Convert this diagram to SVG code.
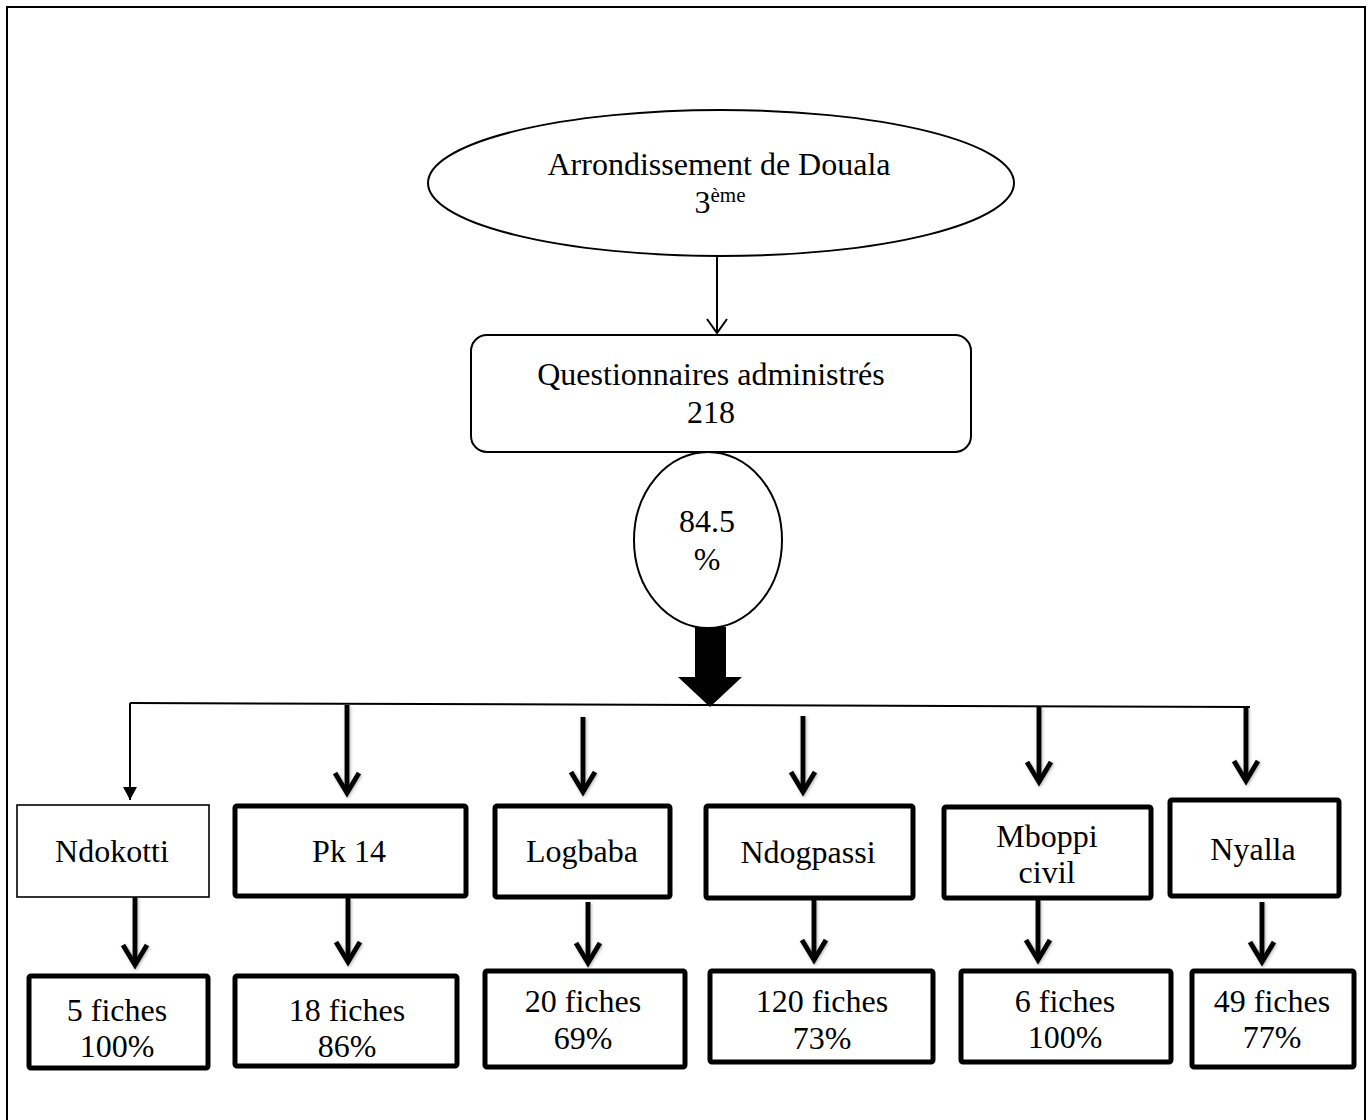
<svg xmlns="http://www.w3.org/2000/svg" width="1367" height="1120" viewBox="0 0 1367 1120">
  <style>
    text { font-family: "Liberation Serif", "Times New Roman", serif; font-size: 32px; fill: #000; text-anchor: middle; }
    .sup { font-size: 21px; }
    .frame { fill: none; stroke: #000; stroke-width: 2; }
    .thin { fill: #fff; stroke: #000; stroke-width: 2; }
    .box { fill: #fff; stroke: #000; stroke-width: 5; }
    .box-light { fill: #fff; stroke: #000; stroke-width: 1.6; }
    .wire { fill: none; stroke: #000; stroke-width: 2; }
    .thick { fill: none; stroke: #000; stroke-width: 5; marker-end: url(#vhead); filter: url(#glow); }
  </style>
  <defs>
    <filter id="glow" filterUnits="userSpaceOnUse" x="0" y="0" width="1367" height="1120">
      <feDropShadow dx="1" dy="1" stdDeviation="1.6" flood-color="#777" flood-opacity="0.55"/>
    </filter>
    <!-- open V head for the bold arrows -->
    <marker id="vhead" markerUnits="userSpaceOnUse" markerWidth="40" markerHeight="40" viewBox="-30 -20 40 40" refX="0" refY="0" orient="auto" overflow="visible">
      <path d="M-20,-12 L0,0 L-20,12" fill="none" stroke="#000" stroke-width="5" stroke-linejoin="miter"/>
    </marker>
    <!-- thin open head -->
    <marker id="thinhead" markerUnits="userSpaceOnUse" markerWidth="30" markerHeight="30" viewBox="-20 -15 30 30" refX="0" refY="0" orient="auto" overflow="visible">
      <path d="M-14,-10 L0,0 L-14,10" fill="none" stroke="#000" stroke-width="2"/>
    </marker>
    <!-- small filled head -->
    <marker id="solidhead" markerUnits="userSpaceOnUse" markerWidth="20" markerHeight="20" viewBox="-15 -10 20 20" refX="0" refY="0" orient="auto" overflow="visible">
      <path d="M-13,-7 L0,0 L-13,7 Z" fill="#000"/>
    </marker>
  </defs>

  <rect width="1367" height="1120" fill="#fff"/>
  <rect class="frame" x="7" y="7" width="1358" height="1200"/>

  <g id="arrondissement">
    <ellipse class="thin" cx="721" cy="183" rx="293" ry="73"/>
    <text x="719" y="175">Arrondissement de Douala</text>
    <text x="720" y="213">3<tspan class="sup" dy="-11">ème</tspan></text>
  </g>

  <g id="questionnaires">
    <rect class="thin" x="471" y="335" width="500" height="117" rx="16"/>
    <text x="711" y="385">Questionnaires administrés</text>
    <text x="711" y="423">218</text>
  </g>

  <g id="taux">
    <ellipse class="thin" cx="708" cy="540" rx="74" ry="88"/>
    <text x="707" y="532">84.5</text>
    <text x="707" y="570">%</text>
  </g>

  <g id="ndokotti">
    <rect class="box-light" x="17" y="805" width="192" height="92"/>
    <text x="112" y="862">Ndokotti</text>
  </g>
  <g id="pk14">
    <rect class="box" x="235" y="806" width="231" height="90" rx="2"/>
    <text x="349" y="862">Pk 14</text>
  </g>
  <g id="logbaba">
    <rect class="box" x="495" y="806" width="175" height="91" rx="2"/>
    <text x="582" y="862">Logbaba</text>
  </g>
  <g id="ndogpassi">
    <rect class="box" x="706" y="806" width="207" height="92" rx="2"/>
    <text x="808" y="863">Ndogpassi</text>
  </g>
  <g id="mboppi">
    <rect class="box" x="944" y="807" width="207" height="91" rx="2"/>
    <text x="1047" y="847">Mboppi</text>
    <text x="1047" y="883">civil</text>
  </g>
  <g id="nyalla">
    <rect class="box" x="1170" y="800" width="169" height="96" rx="2"/>
    <text x="1253" y="860">Nyalla</text>
  </g>

  <g id="fiches-ndokotti">
    <rect class="box" x="29" y="976" width="179" height="92" rx="2"/>
    <text x="117" y="1021">5 fiches</text>
    <text x="117" y="1057">100%</text>
  </g>
  <g id="fiches-pk14">
    <rect class="box" x="235" y="976" width="222" height="90" rx="2"/>
    <text x="347" y="1021">18 fiches</text>
    <text x="347" y="1057">86%</text>
  </g>
  <g id="fiches-logbaba">
    <rect class="box" x="485" y="971" width="200" height="96" rx="2"/>
    <text x="583" y="1012">20 fiches</text>
    <text x="583" y="1049">69%</text>
  </g>
  <g id="fiches-ndogpassi">
    <rect class="box" x="710" y="971" width="223" height="91" rx="2"/>
    <text x="822" y="1012">120 fiches</text>
    <text x="822" y="1049">73%</text>
  </g>
  <g id="fiches-mboppi">
    <rect class="box" x="961" y="971" width="210" height="91" rx="2"/>
    <text x="1065" y="1012">6 fiches</text>
    <text x="1065" y="1048">100%</text>
  </g>
  <g id="fiches-nyalla">
    <rect class="box" x="1192" y="971" width="162" height="96" rx="2"/>
    <text x="1272" y="1012">49 fiches</text>
    <text x="1272" y="1048">77%</text>
  </g>

  <g id="connectors">
    <line class="wire" x1="717" y1="257" x2="717" y2="333" marker-end="url(#thinhead)"/>
    <!-- wide block arrow under the percentage -->
    <polygon points="695,627 726,627 726,677 742,677 710,707 678,677 695,677" fill="#000"/>
    <!-- distribution bar -->
    <line class="wire" x1="130" y1="703" x2="1250" y2="707"/>
    <path class="wire" d="M130,703 V800" marker-end="url(#solidhead)"/>
    <path class="thick" d="M347,705 V793"/>
    <path class="thick" d="M583,717 V792"/>
    <path class="thick" d="M803,716 V792"/>
    <path class="thick" d="M1039,707 V782"/>
    <path class="thick" d="M1246,707 V781"/>
    <path class="thick" d="M135,897 V965"/>
    <path class="thick" d="M348,898 V962"/>
    <path class="thick" d="M588,902 V963"/>
    <path class="thick" d="M814,900 V960"/>
    <path class="thick" d="M1038,900 V960"/>
    <path class="thick" d="M1262,902 V962"/>
  </g>
</svg>
